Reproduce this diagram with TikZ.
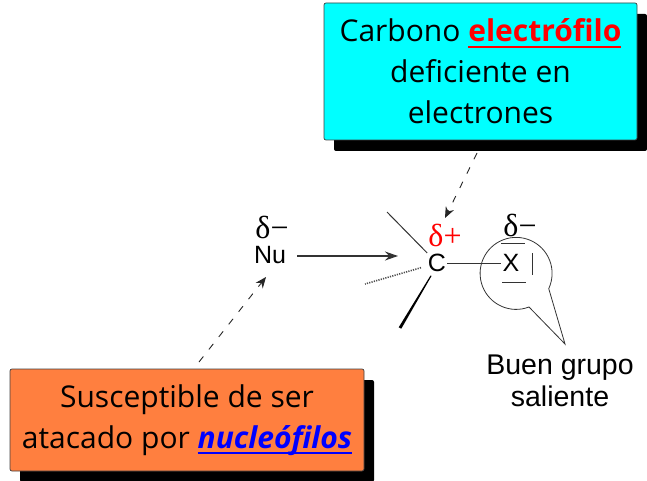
\documentclass[tikz,border=0pt]{standalone}
\usepackage{fontspec}
\setmainfont{Open Sans}
\newfontfamily\arialfont{Liberation Sans}
\newfontfamily\symfont{Liberation Serif}
\newcommand\heavyul[1]{\setbox0=\hbox{#1}\copy0\llap{\rule[-6pt]{\wd0}{2pt}}}
\usetikzlibrary{arrows.meta, shadows, calc}
\definecolor{boxorange}{RGB}{255,127,63}
\definecolor{boxcyan}{RGB}{0,255,255}
\tikzset{
  info box/.style={
    rectangle, rounded corners=2pt, draw=black!75, line width=0.7pt,
    align=center, inner sep=0pt,
    font=\fontsize{30}{41}\selectfont,
    drop shadow={opacity=1, fill=black, shadow xshift=10pt, shadow yshift=-11pt}
  },
  atom/.style={
    font=\arialfont\fontsize{25}{30}\selectfont, inner sep=1pt
  },
  charge/.style={
    font=\symfont\fontsize{32}{34}\selectfont, inner sep=0pt
  },
  dash arrow/.style={
    -{Stealth[length=11pt,width=9pt]}, draw=black!85, line width=0.9pt,
    dash pattern=on 7pt off 9pt
  },
  bond/.style={
    draw=black!80, line width=1pt
  }
}
\begin{document}
\begin{tikzpicture}[x=1pt, y=-1pt]
  \useasboundingbox (0,0) rectangle (647,481);

  % boxes
  \node (electro) [info box, fill=boxcyan, minimum width=313pt, minimum height=137pt] at (480.5,71.5)
    {Carbono \textcolor{red}{\heavyul{\textbf{electrófilo}}}\\deficiente en\\electrones};
  \node (nucleo) [info box, fill=boxorange, minimum width=354pt, minimum height=102pt] at (187,420)
    {Susceptible de ser\\atacado por \textcolor{blue}{\heavyul{\textbf{\textit{nucleófilos}}}}};

  % atoms
  \node (nu) [atom] at (270,255) {Nu};
  \node (c) [atom] at (437,263) {C};
  \node (x) [atom] at (511,263) {X};
  \node (dnu) [charge] at (272,227) {δ−};
  \node (dc) [charge, text=red] at (445,235) {δ+};
  \node (dx) [charge] at (520,225) {δ−};
  \node (leaving) [align=center, font=\arialfont\fontsize{28.5}{32}\selectfont] at (560,381)
    {Buen grupo\\saliente};

  \coordinate (nutip) at (398,256);
  \coordinate (ctip) at (445,218);
  \coordinate (ctail) at (477,153);
  \coordinate (ntip) at (266,277);
  \coordinate (ntail) at (199,362);
  \coordinate (b1) at (387,212);
  \coordinate (b2) at (365,284);
  \coordinate (w1) at (401.3,328.7);
  \coordinate (w2) at (398.7,327.3);

  % arrows
  \draw [dash arrow] (ctail) -- (ctip);
  \draw [dash arrow] (ntail) -- (ntip);
  \draw [-{Stealth[length=13pt,width=9pt]}, draw=black!80, line width=1.1pt, shorten <=10pt] (nu.east |- nutip) -- (nutip);

  % bonds
  \draw [bond] (c) -- (b1);
  \draw [draw=black!70, line width=1.6pt, dash pattern=on 1.2pt off 1.2pt, shorten <=6pt] (c) -- (b2);
  \fill [black] (431.5,276) -- (w1) -- (w2) -- (430.5,275.5) -- cycle;
  \draw [bond] (c) -- (x);

  % lone pairs
  \draw [bond] (501,243) -- (525,243);
  \draw [bond] (502,282) -- (526,282);
  \draw [bond] (532,253) -- (532,275);

  % callout
  \draw [draw=black!80, line width=0.8pt] (529,307)
    arc[start angle=-69, end angle=-385, radius=36pt] -- (565,344) -- cycle;
\end{tikzpicture}
\end{document}
